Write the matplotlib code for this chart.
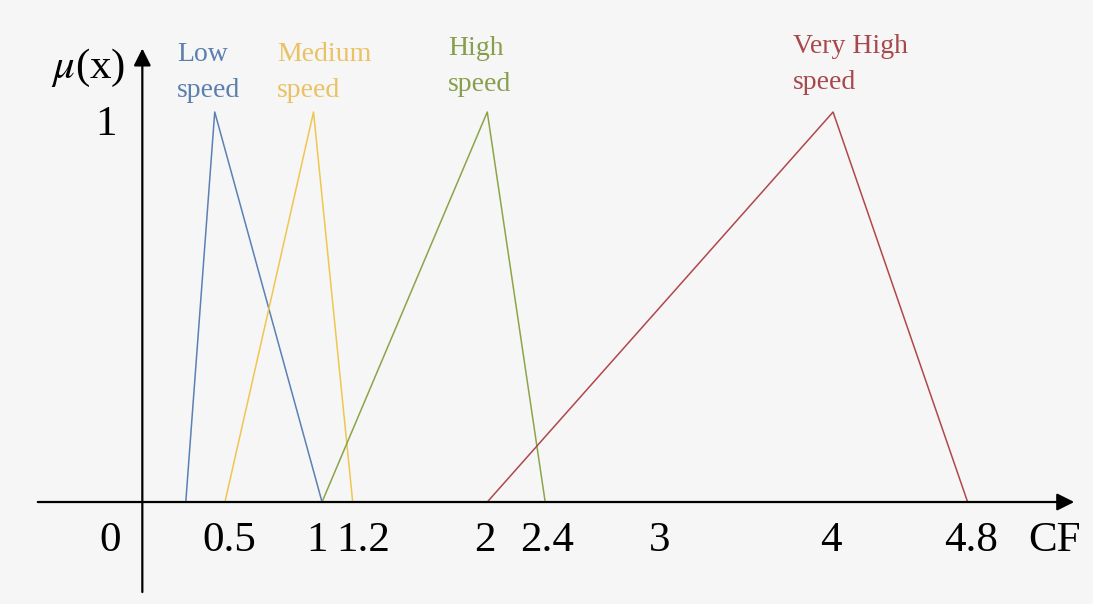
import matplotlib.pyplot as plt

# membership functions (CF value of start, peak, end) as drawn
names = ["Low\nspeed", "Medium\nspeed", "High\nspeed", "Very High\nspeed"]
low = [0.20, 0.37, 1.00]
medium = [0.43, 0.95, 1.18]
high = [1.00, 1.97, 2.31]
very_high = [1.97, 4.00, 4.79]
mu = [0, 1, 0]

tick_labels = ["0", "0.5", "1", "1.2", "2", "2.4", "3", "4", "4.8"]

# layout: where the labels sit in the picture (CF units)
tick_x = [-0.245, 0.455, 0.97, 1.24, 1.955, 2.32, 2.98, 3.99, 4.81]
name_xy = [(0.15, 1.18), (0.735, 1.18), (1.74, 1.195), (3.765, 1.20)]
colors = ["#5a80b4", "#f0c550", "#8ca448", "#b0474b"]
text_colors = ["#5a7fae", "#e9c263", "#879f4c", "#a8474c"]

plt.rcParams["font.family"] = ["Liberation Serif", "DejaVu Serif"]
plt.rcParams["mathtext.fontset"] = "stix"

fig = plt.figure(figsize=(10.93, 6.04), dpi=100, facecolor="#f6f6f6")
ax = fig.add_axes([0, 0, 1, 1])
ax.set_facecolor("#f6f6f6")
ax.set_xlim(-0.8906, 5.526)
ax.set_ylim(-0.2615, 1.2872)
ax.axis("off")

# axes with arrows
ax.annotate("", xy=(5.432, 0), xytext=(-0.685, 0),
            arrowprops=dict(arrowstyle="-|>", color="black", lw=1.6, mutation_scale=26))
ax.annotate("", xy=(-0.055, 1.17), xytext=(-0.055, -0.238),
            arrowprops=dict(arrowstyle="-|>", color="black", lw=1.6, mutation_scale=26))

for pts, c in zip([low, medium, high, very_high], colors):
    ax.plot(pts, mu, color=c, lw=1.1)

for (x, y), name, c in zip(name_xy, names, text_colors):
    ax.text(x, y, name, color=c, fontsize=20, ha="left", va="top", linespacing=1.6)

for x, lab in zip(tick_x, tick_labels):
    ax.text(x, -0.1, lab, fontsize=31, ha="center", va="center")
ax.text(5.30, -0.1, "CF", fontsize=31, ha="center", va="center")
ax.text(-0.268, 0.967, "1", fontsize=31, ha="center", va="center")
ax.text(-0.374, 1.113, r"$\mu$(x)", fontsize=31, ha="center", va="center")

fig.savefig("out.png", dpi=100, facecolor=fig.get_facecolor())
